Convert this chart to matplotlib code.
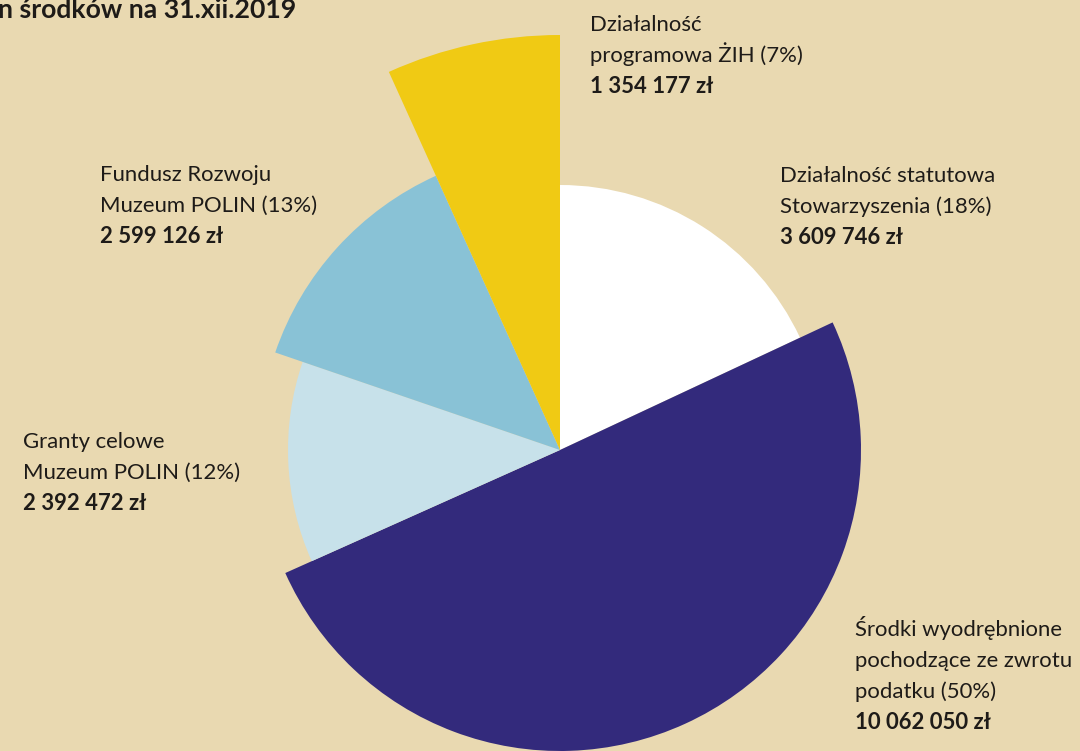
import matplotlib.pyplot as plt

# dane: struktura środków
labels = [
    ["Działalność statutowa", "Stowarzyszenia (18%)"],
    ["Środki wyodrębnione", "pochodzące ze zwrotu", "podatku (50%)"],
    ["Granty celowe", "Muzeum POLIN (12%)"],
    ["Fundusz Rozwoju", "Muzeum POLIN (13%)"],
    ["Działalność", "programowa ŻIH (7%)"],
]
amounts = ["3 609 746 zł", "10 062 050 zł", "2 392 472 zł", "2 599 126 zł", "1 354 177 zł"]
values = [3609746, 10062050, 2392472, 2599126, 1354177]

colors = ["#FFFFFF", "#332A7C", "#C7E1EA", "#89C2D6", "#F0CA14"]
radii = [265, 301, 272, 301, 415]
# (x lewej krawędzi, linia bazowa pierwszego wiersza) w pikselach
label_pos = [(780, 182), (855, 636), (23, 448), (100, 181), (590, 31)]

BG = "#E9D9B1"
TXT = "#1E1B18"
W, H = 1080, 751
LINE = 31
FS = 15.9

plt.rcParams["font.family"] = ["Lato", "DejaVu Sans"]

fig = plt.figure(figsize=(W / 100, H / 100), dpi=100, facecolor=BG)
ax = fig.add_axes([0, 0, 1, 1])
ax.set_facecolor(BG)

wedges, _ = ax.pie(
    values,
    colors=colors,
    startangle=90,
    counterclock=False,
    center=(560, H - 450),
    radius=300,
    frame=True,
)
for w, r in zip(wedges, radii):
    w.set_radius(r)
ax.set_xlim(0, W)
ax.set_ylim(0, H)
ax.set_aspect("equal")
ax.axis("off")

for lines, amount, (x, y0) in zip(labels, amounts, label_pos):
    for i, line in enumerate(lines):
        ax.text(x, H - (y0 + i * LINE), line, fontsize=FS, color=TXT,
                va="baseline", ha="left")
    ax.text(x, H - (y0 + len(lines) * LINE), amount, fontsize=FS,
            fontweight="bold", color=TXT, va="baseline", ha="left")

# tytuł jest przycięty na krawędzi, jak w oryginale
ax.text(-2, H - 18, "n środków na 31.xii.2019", fontsize=19.2, fontweight="bold",
        color=TXT, va="baseline", ha="left")

fig.savefig("out.png", dpi=100, facecolor=BG)
